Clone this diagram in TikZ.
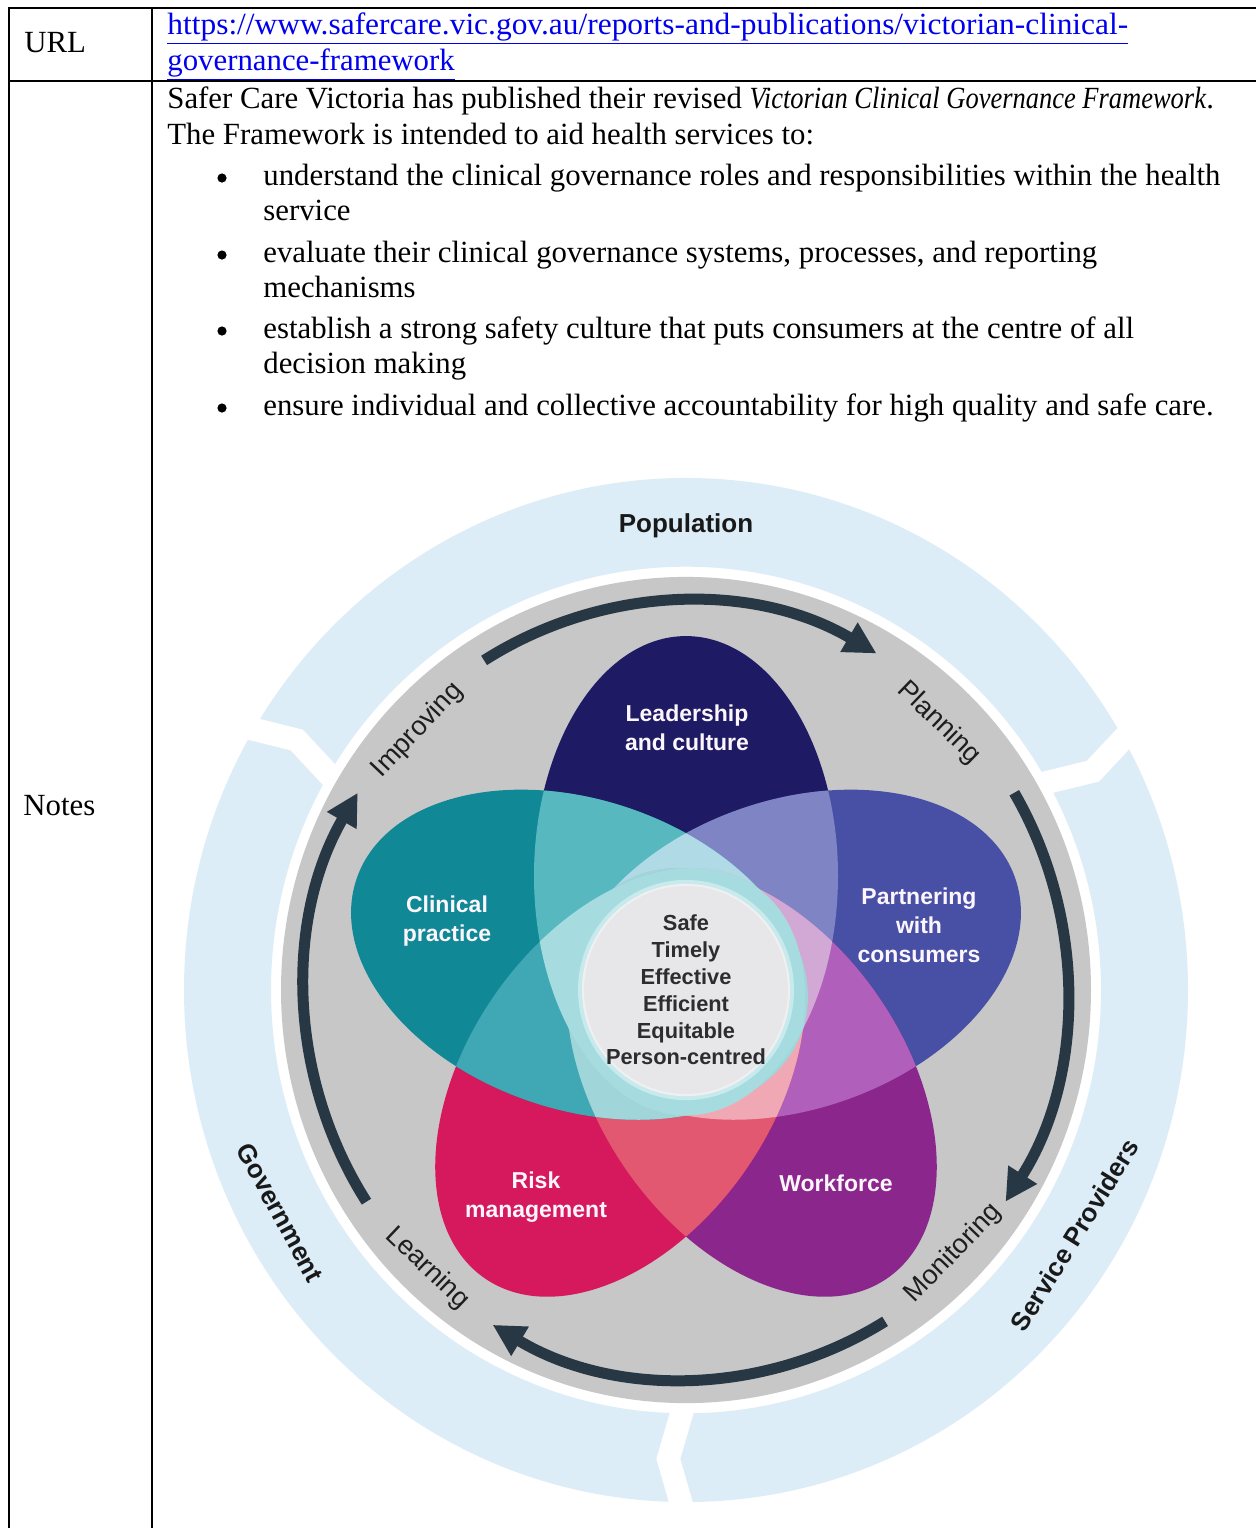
\documentclass[tikz,border=0pt]{standalone}
\usepackage{fontspec}
\setmainfont{Liberation Serif}
\setsansfont{Liberation Sans}
\usepackage{graphicx}
\usepackage{tikz}
\usetikzlibrary{arrows.meta}
\definecolor{linkblue}{RGB}{0,0,238}
\definecolor{ringblue}{RGB}{221,237,248}
\definecolor{discgrey}{RGB}{199,199,199}
\definecolor{arrowslate}{RGB}{40,55,68}
\definecolor{navyC}{RGB}{30,27,100}
\definecolor{partC}{RGB}{72,80,166}
\definecolor{workC}{RGB}{138,38,140}
\definecolor{riskC}{RGB}{214,25,92}
\definecolor{clinC}{RGB}{16,136,150}
\definecolor{navypart}{RGB}{126,132,196}
\definecolor{partwork}{RGB}{176,96,186}
\definecolor{workrisk}{RGB}{226,88,112}
\definecolor{riskclin}{RGB}{64,168,180}
\definecolor{clinnavy}{RGB}{88,184,192}
\definecolor{paletop}{RGB}{176,218,230}
\definecolor{paleright}{RGB}{210,168,212}
\definecolor{palelowr}{RGB}{240,168,180}
\definecolor{palelowl}{RGB}{160,214,218}
\definecolor{paleleft}{RGB}{166,220,224}
\definecolor{centregrey}{RGB}{231,231,233}
\tikzstyle{cell} = [anchor=base west, inner sep=0pt, font=\fontsize{15.4}{18}\selectfont]
\tikzstyle{bulletdot} = [circle, fill=black, inner sep=0pt, minimum size=4.6pt]
\tikzstyle{tableline} = [line width=1pt, black]
\tikzstyle{gap} = [white, line width=11.5pt, miter limit=10]
\tikzstyle{cyclearrow} = [line width=5.5pt, draw=arrowslate, -{Triangle[length=16pt,width=16pt]}]
\tikzstyle{petallabel} = [align=center, text={rgb,255:red,252;green,246;blue,252}, font=\sffamily\bfseries\fontsize{11.5}{14.5}\selectfont]
\tikzstyle{qualitylabel} = [align=center, text={rgb,255:red,45;green,45;blue,48}, font=\sffamily\bfseries\fontsize{10.9}{13.4}\selectfont]
\tikzstyle{cyclelabel} = [text={rgb,255:red,30;green,30;blue,30}, font=\sffamily\fontsize{13.5}{16}\selectfont]
\tikzstyle{ringlabel} = [text={rgb,255:red,25;green,25;blue,25}, font=\sffamily\bfseries\fontsize{13}{16}\selectfont]
\newcommand{\petal}{(112,0) ellipse [x radius=235, y radius=152]}

\begin{document}
\begin{tikzpicture}[x=0.5pt, y=0.5pt]
\useasboundingbox (0,0) rectangle (1256,-1528);
\fill[white] (0,0) rectangle (1256,-1528);

% table rules
\draw[tableline] (8,-8) -- (1256,-8);
\draw[tableline] (8,-81) -- (1256,-81);
\draw[tableline] (9,-8) -- (9,-1528);
\draw[tableline] (152,-8) -- (152,-1528);

% first column
\node[cell] (urlhead) at (24,-52) {URL};
\node[cell] (noteshead) at (23,-815) {Notes};

% link
\node[cell, text=linkblue] (link1) at (167,-34) {\scalebox{1.02}[1]{\underline{https://www.safercare.vic.gov.au/reports-and-publications/victorian-clinical-}}};
\node[cell, text=linkblue] (link2) at (167,-70) {\underline{governance-framework}};

% notes text
\node[cell] (para1) at (167,-108) {Safer Care Victoria has published their revised \scalebox{0.86}[1]{\textit{Victorian Clinical Governance Framework}}.};
\node[cell] (para2) at (167,-144) {The Framework is intended to aid health services to:};
\foreach \y/\name in {185/dot1, 262/dot2, 338/dot3, 415/dot4}
  \node[bulletdot] (\name) at (222,-\y+7) {};
\node[cell] (item1) at (263,-185) {understand the clinical governance roles and responsibilities within the health};
\node[cell] (item1b) at (263,-220) {service};
\node[cell] (item2) at (263,-262) {evaluate their clinical governance systems, processes, and reporting};
\node[cell] (item2b) at (263,-297) {mechanisms};
\node[cell] (item3) at (263,-338) {establish a strong safety culture that puts consumers at the centre of all};
\node[cell] (item3b) at (263,-373) {decision making};
\node[cell] (item4) at (263,-415) {ensure individual and collective accountability for high quality and safe care.};

% framework diagram
\begin{scope}[shift={(686,-990)}, yscale=1.02]
  % outer ring and its three parts
  \fill[ringblue, even odd rule] (0,0) circle[radius=502] (0,0) circle[radius=415];
  \foreach \ang in {150,30,-90}
    \draw[gap] (\ang:520) -- ({\ang-2.2}:460) -- (\ang:400);
  \fill[discgrey] (0,0) circle[radius=405];

  % petals
  \foreach \ang/\col in {90/navyC, 18/partC, -54/workC, -126/riskC, 162/clinC}
    \fill[\col, rotate=\ang] \petal;
  \foreach \angA/\angB/\col in {90/18/navypart, 18/-54/partwork, -54/-126/workrisk, -126/162/riskclin, 162/90/clinnavy}{
    \begin{scope}
      \clip[rotate=\angA] \petal;
      \fill[\col, rotate=\angB] \petal;
    \end{scope}}
  \foreach \angA/\angB/\col in {162/18/paletop, 90/-54/paleright, 18/-126/palelowr, -54/162/palelowl, -126/90/paleleft}{
    \begin{scope}
      \clip[rotate=\angA] \petal;
      \fill[\col, rotate=\angB] \petal;
    \end{scope}}
  \fill[centregrey] (0,0) circle[radius=104];
  \draw[white, opacity=0.4, line width=3pt] (0,0) circle[radius=105];

  % cycle arrows
  \draw[cyclearrow] (122:381) arc[start angle=122, end angle=60, radius=381];
  \draw[cyclearrow] (30.5:381) arc[start angle=30.5, end angle=-33, radius=381];
  \draw[cyclearrow] (-58.5:381) arc[start angle=-58.5, end angle=-120.5, radius=381];
  \draw[cyclearrow] (-147:381) arc[start angle=-147, end angle=-210.5, radius=381];

  % labels
  \node[petallabel] (leader) at (1,257) {Leadership\\and culture};
  \node[petallabel] (partner) at (233,63) {Partnering\\with\\consumers};
  \node[petallabel] (workforce) at (150,-189) {Workforce};
  \node[petallabel] (risk) at (-150,-203) {Risk\\management};
  \node[petallabel] (clinical) at (-239,68) {Clinical\\practice};
  \node[qualitylabel] (quality) at (0,0) {Safe\\Timely\\Effective\\Efficient\\Equitable\\Person-centred};

  \node[cyclelabel, rotate=46.5] (improving) at (136.5:370) {Improving};
  \node[cyclelabel, rotate=-44] (planning) at (46:364) {Planning};
  \node[cyclelabel, rotate=46] (monitoring) at (-44:372) {Monitoring};
  \node[cyclelabel, rotate=-43.5] (learning) at (-133.5:376) {Learning};

  \node[ringlabel] (population) at (0,455) {Population};
  \node[ringlabel, rotate=58.3] (providers) at (-31.7:457) {Service Providers};
  \node[ringlabel, rotate=-61.7] (government) at (208.3:461) {Government};
\end{scope}
\end{tikzpicture}
\end{document}
